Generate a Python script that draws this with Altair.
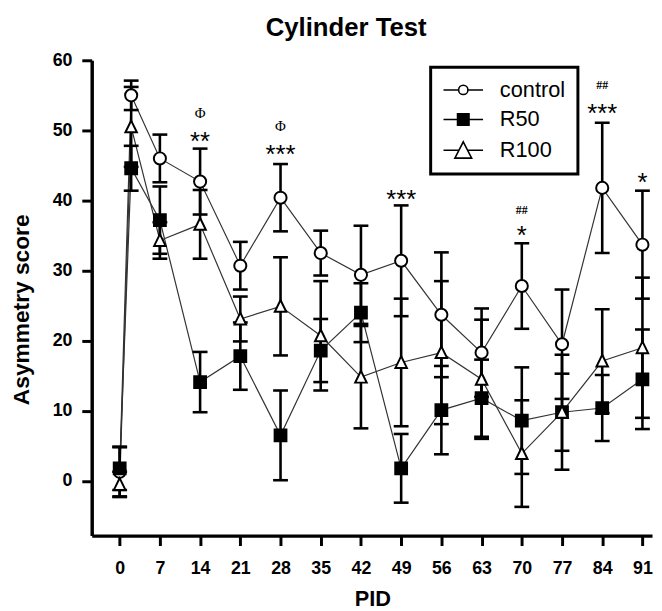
import altair as alt
import pandas as pd

# ---------------- data ----------------
pid = [0, 2, 7, 14, 21, 28, 35, 42, 49, 56, 63, 70, 77, 84, 91]
series_names = ["control", "R50", "R100"]

control_mean = [1.3, 55.0, 46.0, 42.7, 30.7, 40.4, 32.5, 29.4, 31.4, 23.7, 18.3, 27.8, 19.5, 41.8, 33.7]
control_err = [3.5, 2.1, 3.4, 4.7, 3.4, 4.8, 3.2, 7.0, 7.9, 8.9, 6.3, 6.1, 7.8, 9.3, 7.7]

r50_mean = [1.8, 44.6, 37.2, 14.1, 17.8, 6.5, 18.6, 24.0, 1.8, 10.1, 11.8, 8.6, 9.8, 10.4, 14.5]
r50_err = [3.1, 3.2, 4.8, 4.3, 4.8, 6.4, 4.5, 4.2, 4.9, 6.3, 5.5, 7.6, 5.5, 4.7, 7.1]

r100_mean = [-0.5, 50.5, 34.3, 36.6, 23.1, 24.9, 20.7, 14.8, 16.9, 18.3, 14.5, 3.9, 9.8, 17.1, 19.0]
r100_err = [1.8, 5.7, 2.6, 4.9, 3.2, 7.0, 7.8, 7.3, 9.1, 10.2, 8.5, 7.6, 8.2, 7.4, 10.0]

x_ticks = [0, 7, 14, 21, 28, 35, 42, 49, 56, 63, 70, 77, 84, 91]
y_ticks = [0, 10, 20, 30, 40, 50, 60]

# significance annotations
star_pid = [14, 28, 49, 70, 84, 91]
star_y = [49.3, 47.4, 41.1, 35.9, 53.3, 43.4]
star_text = ["**", "***", "***", "*", "***", "*"]

phi_pid = [14, 28]
phi_y = [52.5, 50.6]
phi_text = ["Φ", "Φ"]

hash_pid = [70, 84]
hash_y = [38.7, 56.4]
hash_text = ["##", "##"]

# ---------------- tables ----------------
rows = []
for name, means, errs in [("control", control_mean, control_err),
                          ("R50", r50_mean, r50_err),
                          ("R100", r100_mean, r100_err)]:
    for p, m, e in zip(pid, means, errs):
        rows.append({"PID": p, "series": name, "mean": m, "lo": m - e, "hi": m + e})
df = pd.DataFrame(rows)

stars_df = pd.DataFrame({"PID": star_pid, "mean": star_y, "label": star_text})
phi_df = pd.DataFrame({"PID": phi_pid, "mean": phi_y, "label": phi_text})
hash_df = pd.DataFrame({"PID": hash_pid, "mean": hash_y, "label": hash_text})

# ---------------- scales / axes ----------------
FONT = "Liberation Sans"
x_scale = alt.Scale(domain=[-4.87, 92.67], nice=False, zero=False)
y_scale = alt.Scale(domain=[-7.8, 60], nice=False, zero=False)

x_axis = alt.Axis(values=x_ticks, title="PID", grid=False,
                  labelFont=FONT, labelFontSize=18, labelFontWeight="bold", labelColor="black",
                  labelPadding=14, tickSize=10, tickWidth=3, tickColor="black",
                  domainWidth=3.5, domainColor="black", labelFlush=False,
                  titleFont=FONT, titleFontSize=22, titleFontWeight="bold", titleColor="black",
                  titleBaseline="alphabetic", titleY=71, titleX=284, titleAlign="center")
y_axis = alt.Axis(values=y_ticks, title="Asymmetry score", grid=False,
                  labelFont=FONT, labelFontSize=18, labelFontWeight="bold", labelColor="black",
                  labelPadding=10, tickSize=10, tickWidth=3, tickColor="black",
                  domainWidth=3.5, domainColor="black", labelFlush=False,
                  titleFont=FONT, titleFontSize=23, titleFontWeight="bold", titleColor="black",
                  titleBaseline="alphabetic", titleAngle=270, titleAlign="center",
                  titleX=-64, titleY=252)


def X(field="PID"):
    return alt.X(f"{field}:Q", scale=x_scale, axis=x_axis)


def Y(field):
    return alt.Y(f"{field}:Q", scale=y_scale, axis=y_axis)


base = alt.Chart(df)

lines = base.mark_line(color="#333333", strokeWidth=1.2).encode(
    x=X(), y=Y("mean"), detail="series:N", order="PID:Q"
)

rules = base.mark_rule(color="black", strokeWidth=2.6).encode(
    x=X(), y=Y("lo"), y2="hi:Q"
)
caps_lo = base.mark_tick(orient="horizontal", size=15, thickness=2.6, color="black", opacity=1).encode(
    x=X(), y=Y("lo")
)
caps_hi = base.mark_tick(orient="horizontal", size=15, thickness=2.6, color="black", opacity=1).encode(
    x=X(), y=Y("hi")
)

tri_plot = "M0,-1.1L1,0.95L-1,0.95Z"
points = base.mark_point(stroke="black", strokeWidth=2, opacity=1).encode(
    x=X(), y=Y("mean"),
    shape=alt.Shape("series:N", scale=alt.Scale(domain=series_names, range=["circle", "square", tri_plot]), legend=None),
    fill=alt.Fill("series:N", scale=alt.Scale(domain=series_names, range=["white", "black", "white"]), legend=None),
    size=alt.Size("series:N", scale=alt.Scale(domain=series_names, range=[150, 135, 169]), legend=None),
)

# legend symbols: line through a marker (symbol size 400 -> 10 px per unit)
circle_path = "M-2,0L-0.47,0M0.47,0L2,0M0.47,0A0.47,0.47,0,1,1,-0.47,0A0.47,0.47,0,1,1,0.47,0Z"
square_path = "M-2,0L2,0M-0.58,-0.58L0.58,-0.58L0.58,0.58L-0.58,0.58Z"
tri_path = "M-2,0L-0.44,0M0.44,0L2,0M0,-0.85L0.85,0.8L-0.85,0.8Z"

leg = alt.Legend(title=None, orient="none", legendX=343, legendY=7,
                 strokeColor="black", padding=12, labelOffset=26, symbolOffset=10, rowPadding=8,
                 labelFont=FONT, labelFontSize=22, labelColor="black", labelLimit=300,
                 symbolStrokeColor="black", symbolStrokeWidth=1.6, symbolSize=400,
                 symbolOpacity=1)

legend_layer = base.transform_filter("false").mark_point(strokeWidth=1.6, opacity=1).encode(
    x=X(), y=Y("mean"),
    shape=alt.Shape("series:N", scale=alt.Scale(domain=series_names, range=[circle_path, square_path, tri_path]), legend=leg),
    fill=alt.Fill("series:N", scale=alt.Scale(domain=series_names, range=["white", "black", "white"]), legend=leg),
    stroke=alt.Stroke("series:N", scale=alt.Scale(domain=series_names, range=["black", "black", "black"]), legend=leg),
    size=alt.value(400),
)

stars = alt.Chart(stars_df).mark_text(font=FONT, fontSize=26, color="black",
                                      baseline="alphabetic", dy=15, align="center").encode(
    x=X(), y=Y("mean"), text="label:N"
)
phis = alt.Chart(phi_df).mark_text(font="Liberation Serif", fontSize=15, color="black",
                                   baseline="middle", align="center").encode(
    x=X(), y=Y("mean"), text="label:N"
)
hashes = alt.Chart(hash_df).mark_text(font="Liberation Serif", fontSize=12, fontWeight="bold",
                                      color="black", baseline="middle", align="center").encode(
    x=X(), y=Y("mean"), text="label:N"
)

chart = alt.layer(lines, rules, caps_lo, caps_hi, points, legend_layer, stars, phis, hashes).resolve_scale(
    shape="independent", fill="independent", size="independent", stroke="independent"
).properties(
    width=567, height=481,
    autosize=alt.AutoSizeParams(type="none"),
    padding={"left": 84.7, "top": 49.3, "right": 2, "bottom": 75},
    title=alt.TitleParams("Cylinder Test", font=FONT, fontSize=26, fontWeight="bold", color="black",
                          anchor="middle", dx=-26, dy=32, baseline="alphabetic", offset=22),
).configure_view(stroke=None).configure_legend(strokeWidth=3)

chart.save("out.html", embed_options={"renderer": "svg", "actions": False})
